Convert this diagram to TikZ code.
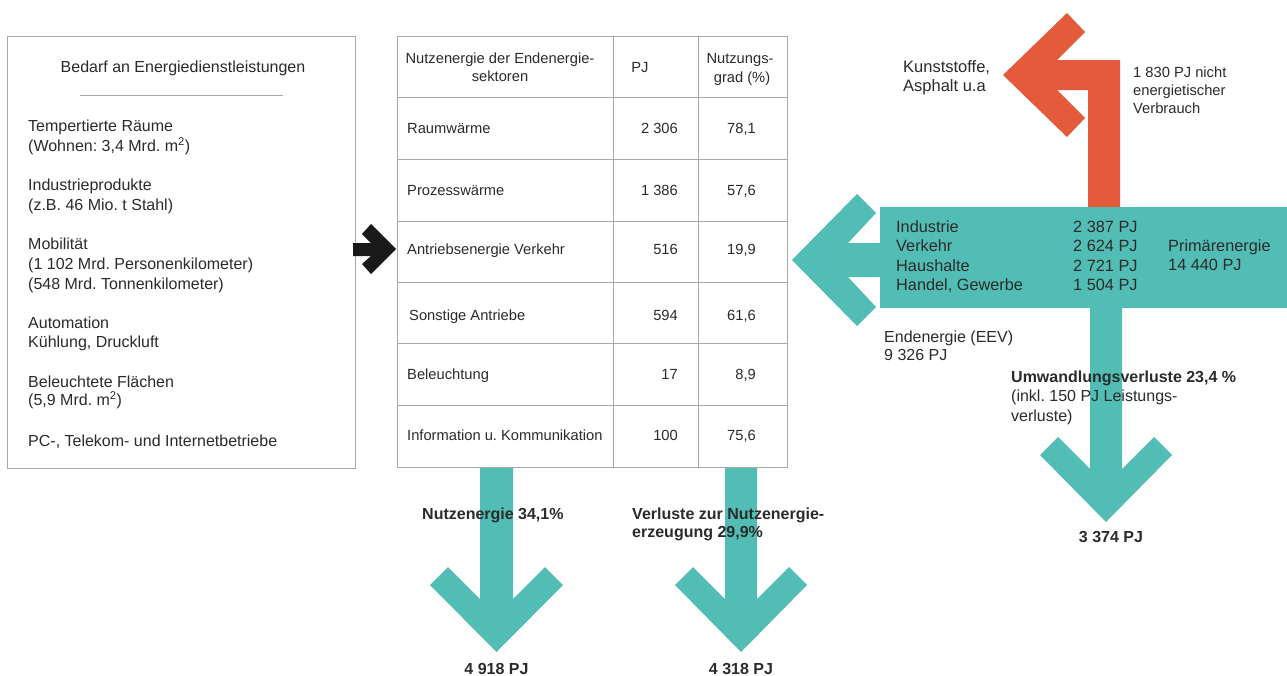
\documentclass[tikz,border=0pt]{standalone}
\usepackage{fontspec}
\setmainfont{Liberation Sans}
\frenchspacing
\newcommand\fsz[1]{\fontsize{#1}{#1}\selectfont}
\definecolor{teal1}{HTML}{52BDB5}
\definecolor{orng}{HTML}{E35B3B}
\definecolor{tgray}{HTML}{2B2B2B}
\definecolor{lgray}{HTML}{A8A8A8}
\begin{document}
\begin{tikzpicture}[x=1pt,y=-1pt,
  lt/.style={inner sep=0pt,anchor=base west,text=tgray,font=\fsz{16}},
  tb/.style={inner sep=0pt,anchor=base west,text=tgray,font=\fsz{14.7}},
  tbr/.style={tb,anchor=base east},
  tbc/.style={tb,anchor=base},
  bd/.style={inner sep=0pt,anchor=base west,text=tgray,font=\fsz{16}\bfseries},
  sm/.style={inner sep=0pt,anchor=base west,text=tgray,font=\fsz{14.7}},
  tealfill/.style={fill=teal1,draw=none},
  orfill/.style={fill=orng,draw=none},
  gridline/.style={draw=lgray,line width=0.9pt}]
\useasboundingbox (0,0) rectangle (1287,675);
\fill[white] (0,0) rectangle (1287,675);

% ---------- left box ----------
\draw[gridline] (7,36) rectangle (355,468);
\draw[gridline] (80,95) -- (283,95);
\node[lt,anchor=base] (bedarf) at (183,72.7) {Bedarf an Energiedienstleistungen};
\node[lt] (l1a) at (28,131.7) {Tempertierte Räume};
\node[lt] (l1b) at (28,151.7) {(Wohnen: 3,4 Mrd. m\textsuperscript{2})};
\node[lt] (l2a) at (28,190.7) {Industrieprodukte};
\node[lt] (l2b) at (28,210.3) {(z.B. 46 Mio. t Stahl)};
\node[lt] (l3a) at (28,249.3) {Mobilität};
\node[lt] (l3b) at (28,269.3) {(1 102 Mrd. Personenkilometer)};
\node[lt] (l3c) at (28,289.3) {(548 Mrd. Tonnenkilometer)};
\node[lt] (l4a) at (28,328.3) {Automation};
\node[lt] (l4b) at (28,347.3) {Kühlung, Druckluft};
\node[lt] (l5a) at (28,387) {Beleuchtete Flächen};
\node[lt] (l5b) at (28,405.7) {(5,9 Mrd. m\textsuperscript{2})};
\node[lt] (l6a) at (28,446) {PC-, Telekom- und Internetbetriebe};

% ---------- black arrow ----------
\fill[black!90] (353,243) -- (371,243) -- (362,234) -- (371,224) -- (396,249)
  -- (371,274) -- (362,264) -- (371,256) -- (353,256) -- cycle;

% ---------- bottom teal arrows ----------
\fill[tealfill] (480,467) -- (480,599) -- (448,567) -- (430,585) -- (496.5,652)
  -- (563,585) -- (545,567) -- (513,599) -- (513,467) -- cycle;
\fill[tealfill] (725,467) -- (725,599) -- (693,567) -- (675,585) -- (741,652)
  -- (807,585) -- (789,567) -- (757,599) -- (757,467) -- cycle;

% ---------- table ----------
\fill[white] (397,36) rectangle (787,467);
\foreach \yy in {97,159,221,282,343,405}{\draw[gridline] (397,\yy) -- (787,\yy);}
\draw[gridline] (613,36) -- (613,467);
\draw[gridline] (698,36) -- (698,467);
\draw[gridline] (397,36) rectangle (787,467);

\node[tbc] (h1a) at (500,63) {Nutzenergie der Endenergie-};
\node[tbc] (h1b) at (500,81) {sektoren};
\node[tbc] (h2) at (640,72) {PJ};
\node[tbc] (h3a) at (740,63) {Nutzungs-};
\node[tbc] (h3b) at (742,82) {grad (\%)};

\node[tb] (r1) at (407,133) {Raumwärme};
\node[tbr] (r1v) at (678,133) {2 306};
\node[tbr] (r1p) at (756,133) {78,1};
\node[tb] (r2) at (407,195) {Prozesswärme};
\node[tbr] (r2v) at (678,195) {1 386};
\node[tbr] (r2p) at (756,195) {57,6};
\node[tb] (r3) at (407,254) {Antriebsenergie Verkehr};
\node[tbr] (r3v) at (678,254) {516};
\node[tbr] (r3p) at (756,254) {19,9};
\node[tb] (r4) at (409,320) {Sonstige Antriebe};
\node[tbr] (r4v) at (678,320) {594};
\node[tbr] (r4p) at (756,320) {61,6};
\node[tb] (r5) at (407,379) {Beleuchtung};
\node[tbr] (r5v) at (678,379) {17};
\node[tbr] (r5p) at (756,379) {8,9};
\node[tb] (r6) at (407,440) {Information u. Kommunikation};
\node[tbr] (r6v) at (678,440) {100};
\node[tbr] (r6p) at (756,440) {75,6};

% bottom labels
\node[bd] (nutz) at (422,519) {Nutzenergie 34,1\%};
\node[bd] (verl1) at (632,519) {Verluste zur Nutzenergie-};
\node[bd] (verl2) at (632,537) {erzeugung 29,9\%};
\node[bd,anchor=base] (pj1) at (496.5,674) {4 918 PJ};
\node[bd,anchor=base] (pj2) at (741,674) {4 318 PJ};

% ---------- right side ----------
% orange arrow
\fill[orfill] (1120,208) -- (1120,60) -- (1057,60) -- (1085,32) -- (1067,13)
  -- (1003,75) -- (1067,137) -- (1085,118) -- (1057,90) -- (1088,90) -- (1088,208) -- cycle;
% teal band with left arrow
\fill[tealfill] (1287,207) -- (880,207) -- (880,243) -- (848,243) -- (876,213)
  -- (857,194) -- (792,260) -- (857,326) -- (876,307) -- (848,277) -- (880,277)
  -- (880,308) -- (1287,308) -- cycle;
% teal down arrow
\fill[tealfill] (1090,307) -- (1090,469) -- (1058,437) -- (1040,455) -- (1106,522)
  -- (1172,455) -- (1154,437) -- (1122,469) -- (1122,307) -- cycle;

\node[lt,font=\fsz{16.3}] (ind) at (896,232) {Industrie};
\node[lt,font=\fsz{16.3}] (ver) at (896,251) {Verkehr};
\node[lt,font=\fsz{16.3}] (hau) at (896,271) {Haushalte};
\node[lt,font=\fsz{16.3}] (han) at (896,290) {Handel, Gewerbe};
\node[lt,font=\fsz{16.3}] (indv) at (1073,232) {2 387 PJ};
\node[lt,font=\fsz{16.3}] (verv) at (1073,251) {2 624 PJ};
\node[lt,font=\fsz{16.3}] (hauv) at (1073,271) {2 721 PJ};
\node[lt,font=\fsz{16.3}] (hanv) at (1073,290) {1 504 PJ};
\node[lt,font=\fsz{16.3}] (prim1) at (1168,251) {Primärenergie};
\node[lt,font=\fsz{16.3}] (prim2) at (1168,270) {14 440 PJ};

\node[lt,font=\fsz{16.5}] (kun1) at (903,72) {Kunststoffe,};
\node[lt,font=\fsz{16.5}] (kun2) at (903,91) {Asphalt u.a};
\node[sm] (nv1) at (1133,77) {1 830 PJ nicht};
\node[sm] (nv2) at (1133,95) {energietischer};
\node[sm] (nv3) at (1133,113) {Verbrauch};

\node[lt] (eev1) at (884,342) {Endenergie (EEV)};
\node[lt] (eev2) at (884,360) {9 326 PJ};

\node[bd] (umw1) at (1011,382) {Umwandlungsverluste 23,4 \%};
\node[lt] (umw2) at (1011,401) {(inkl. 150 PJ Leistungs-};
\node[lt] (umw3) at (1011,421) {verluste)};
\node[bd,anchor=base] (pj3) at (1111,542) {3 374 PJ};
\end{tikzpicture}
\end{document}
